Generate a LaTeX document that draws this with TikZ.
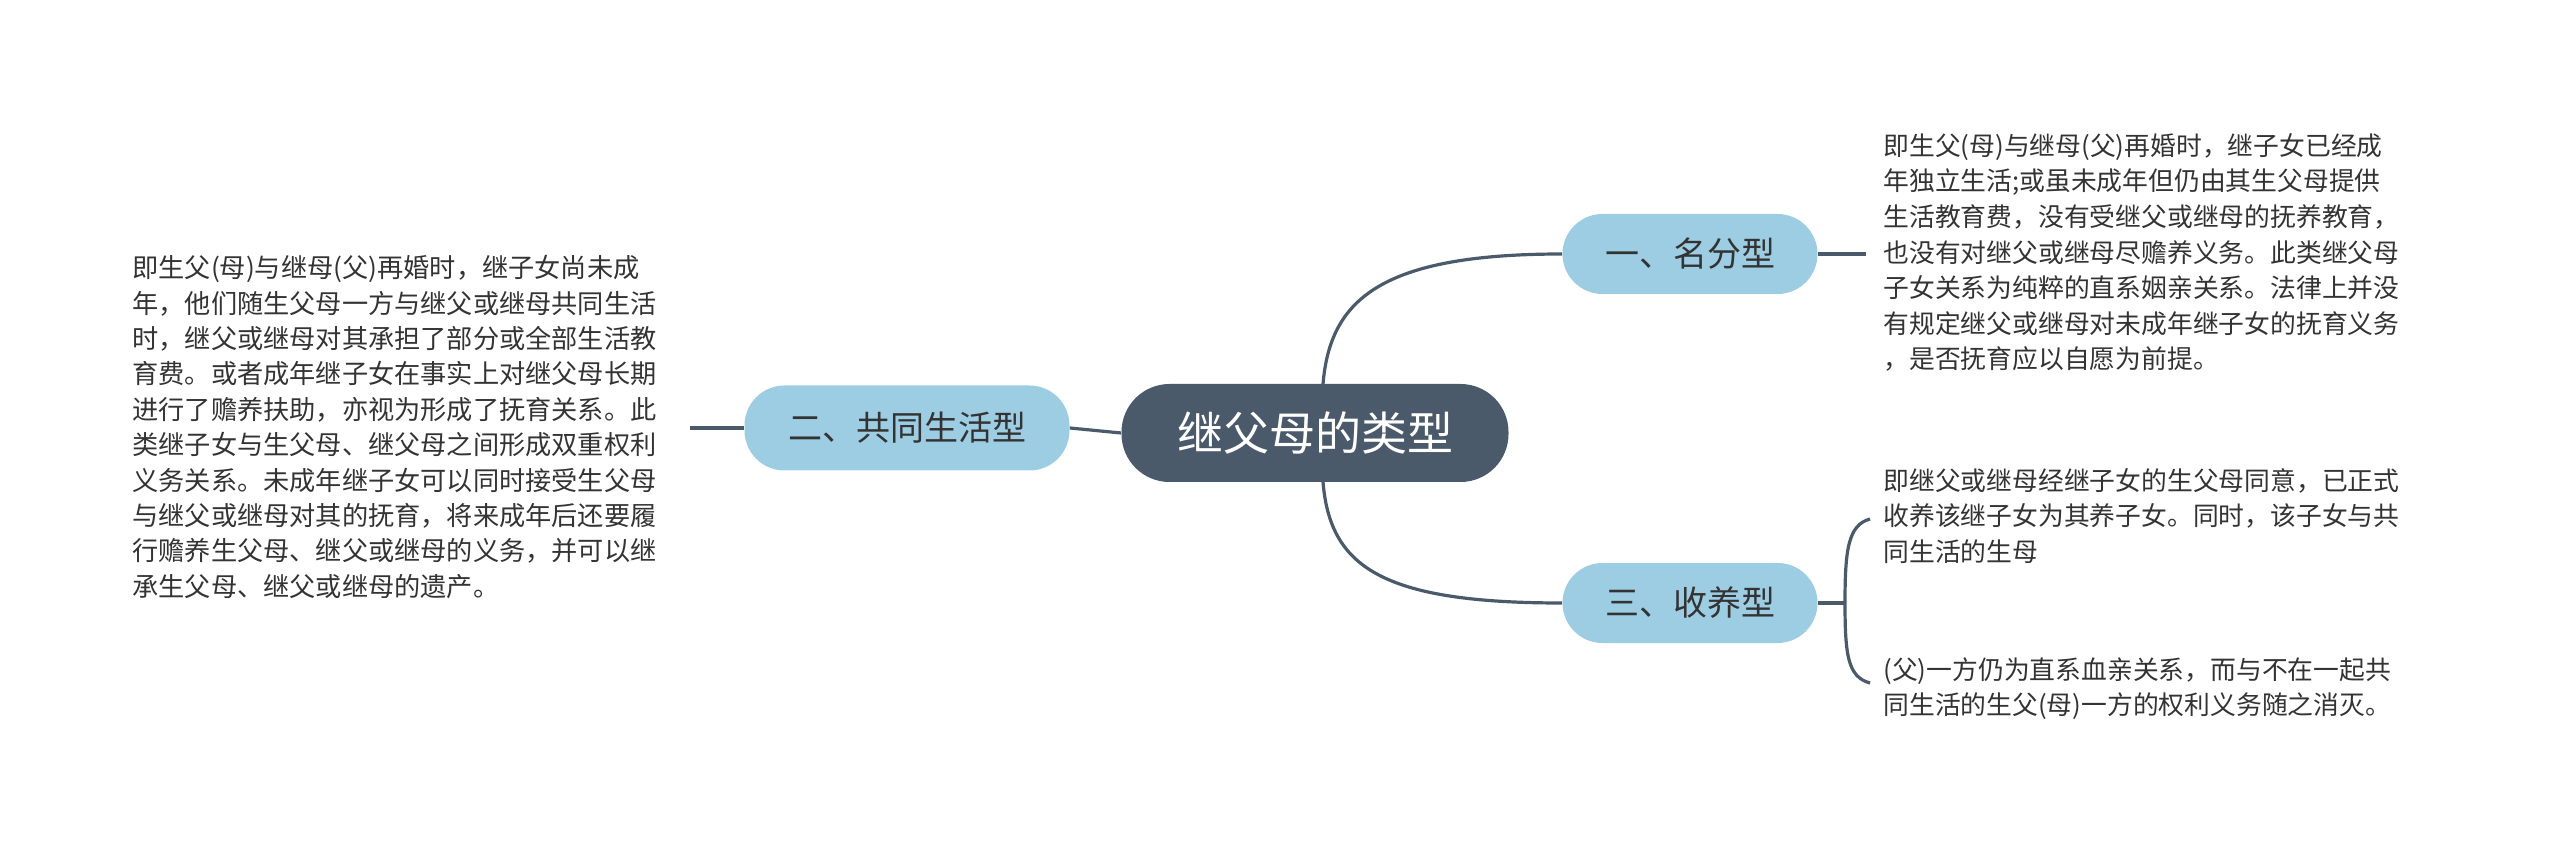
\documentclass[tikz,border=0pt]{standalone}
\usepackage{fontspec}
\setmainfont{Noto Sans CJK SC}
\definecolor{lc}{HTML}{4A5A6A}
\definecolor{bf}{HTML}{9DCDE3}
\definecolor{tc}{HTML}{333333}
\begin{document}
\begin{tikzpicture}[x=0.5pt,y=-0.5pt,
  root/.style={rounded corners=24pt,fill=lc,text=white,minimum width=193.5pt,minimum height=49pt,font=\fontsize{23}{27}\selectfont,inner sep=0},
  br/.style={rounded corners=20pt,fill=bf,text=tc,minimum height=40pt,font=\fontsize{17}{20}\selectfont,inner sep=0},
  lt/.style={anchor=north west,align=left,inner sep=0,text=tc},
  con/.style={draw=lc,line width=1.6pt}]
\useasboundingbox (0,0) rectangle (2560,855);
\node[root] (c) at (1315,433) {继父母的类型};
\node[br,minimum width=127.5pt] (a) at (1690,254) {一、名分型};
\node[br,minimum width=127.5pt] (b) at (1690,603) {三、收养型};
\node[br,minimum width=162.5pt,minimum height=42.5pt] (d) at (907,428) {二、共同生活型};
\node[lt,font=\fontsize{13.1}{17.7}\selectfont] (tl) at (132,255) {即生父(母)与继母(父)再婚时，继子女尚未成\\年，他们随生父母一方与继父或继母共同生活\\时，继父或继母对其承担了部分或全部生活教\\育费。或者成年继子女在事实上对继父母长期\\进行了赡养扶助，亦视为形成了抚育关系。此\\类继子女与生父母、继父母之间形成双重权利\\义务关系。未成年继子女可以同时接受生父母\\与继父或继母对其的抚育，将来成年后还要履\\行赡养生父母、继父或继母的义务，并可以继\\承生父母、继父或继母的遗产。};
\node[lt,font=\fontsize{12.9}{17.8}\selectfont] (ta) at (1883,133) {即生父(母)与继母(父)再婚时，继子女已经成\\年独立生活;或虽未成年但仍由其生父母提供\\生活教育费，没有受继父或继母的抚养教育，\\也没有对继父或继母尽赡养义务。此类继父母\\子女关系为纯粹的直系姻亲关系。法律上并没\\有规定继父或继母对未成年继子女的抚育义务\\，是否抚育应以自愿为前提。};
\node[lt,font=\fontsize{12.9}{17.8}\selectfont] (tb1) at (1883,468) {即继父或继母经继子女的生父母同意，已正式\\收养该继子女为其养子女。同时，该子女与共\\同生活的生母};
\node[lt,font=\fontsize{12.9}{17.8}\selectfont] (tb2) at (1883,657) {(父)一方仍为直系血亲关系，而与不在一起共\\同生活的生父(母)一方的权利义务随之消灭。};
\coordinate (ca) at (1323,384);
\coordinate (cb) at (1323,482);
\draw[con] (ca) .. controls (1330,300) and (1380,254) .. (a.west);
\draw[con] (cb) .. controls (1330,566) and (1380,603) .. (b.west);
\draw[con] (c.west) -- (d.east);
\coordinate (dl) at (690,428);
\draw[con] (d.west) -- (dl);
\coordinate (ae) at (1866,254);
\draw[con] (a.east) -- (ae);
\coordinate (bk) at (1845,603);
\coordinate (bt) at (1870,519);
\coordinate (bb) at (1870,683);
\draw[con] (b.east) -- (bk);
\draw[con] (bt) .. controls (1848,525) and (1845,550) .. (bk) .. controls (1845,656) and (1848,677) .. (bb);
\end{tikzpicture}
\end{document}
